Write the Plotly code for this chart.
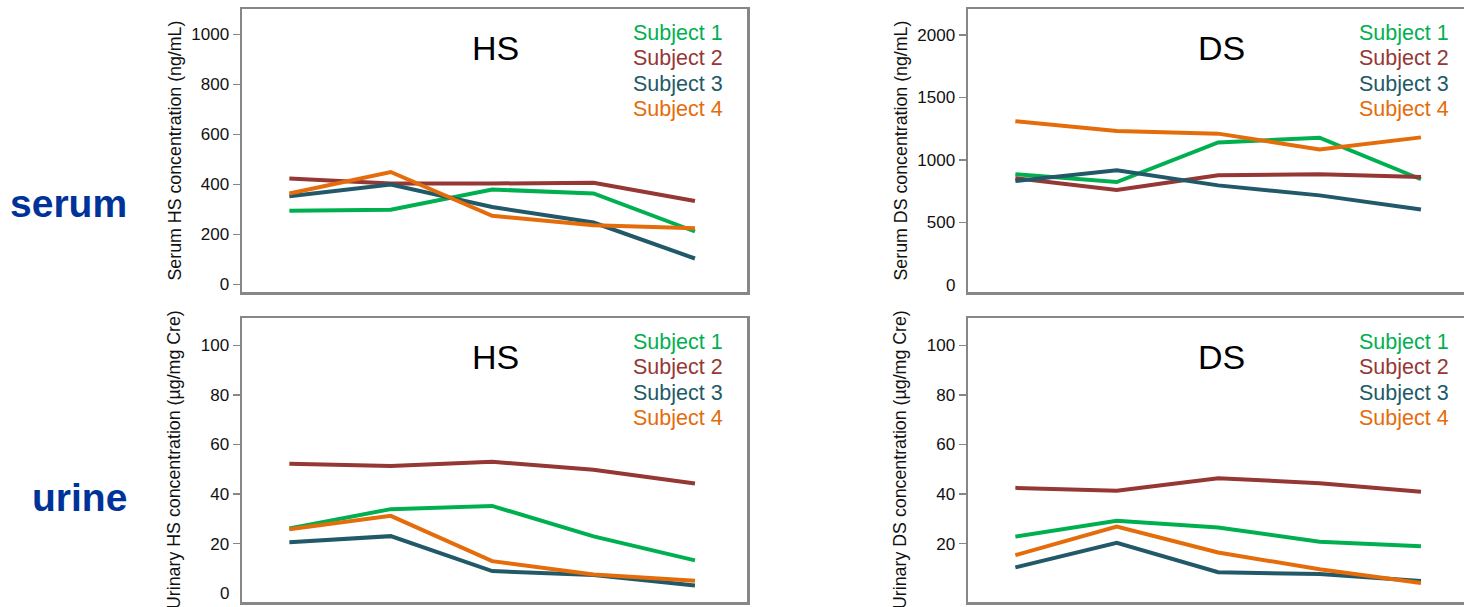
import plotly.graph_objects as go

W, H = 1464, 607

timepoints = [1, 2, 3, 4, 5]
subjects = ["Subject 1", "Subject 2", "Subject 3", "Subject 4"]
colors = ["#00b050", "#953735", "#215968", "#e46c0a"]

serum_hs_s1 = [295, 299, 380, 364, 212]
serum_hs_s2 = [424, 404, 404, 407, 334]
serum_hs_s3 = [353, 400, 310, 248, 104]
serum_hs_s4 = [364, 450, 275, 237, 225]

serum_ds_s1 = [886, 824, 1141, 1178, 846]
serum_ds_s2 = [854, 760, 878, 886, 864]
serum_ds_s3 = [832, 918, 797, 717, 604]
serum_ds_s4 = [1310, 1232, 1211, 1085, 1181]

urine_hs_s1 = [26.1, 33.9, 35.2, 22.9, 13.2]
urine_hs_s2 = [52.2, 51.3, 53.0, 49.8, 44.3]
urine_hs_s3 = [20.5, 23.0, 8.9, 7.3, 3.1]
urine_hs_s4 = [25.8, 31.2, 12.9, 7.5, 5.0]

urine_ds_s1 = [22.8, 29.2, 26.5, 20.7, 18.9]
urine_ds_s2 = [42.5, 41.3, 46.4, 44.4, 40.9]
urine_ds_s3 = [10.4, 20.3, 8.4, 7.7, 4.9]
urine_ds_s4 = [15.3, 26.9, 16.4, 9.6, 4.1]

serum_hs_ticks = [0, 200, 400, 600, 800, 1000]
serum_ds_ticks = [500, 1000, 1500, 2000]
urine_ticks = [20, 40, 60, 80, 100]

panel_titles = ["HS", "DS", "HS", "DS"]
axis_titles = [
    "Serum HS concentration (ng/mL)",
    "Serum DS concentration (ng/mL)",
    "Urinary HS concentration (µg/mg Cre)",
    "Urinary DS concentration (µg/mg Cre)",
]
row_labels = ["serum", "urine"]

FONT = "Arial, Liberation Sans, sans-serif"
GRAY = "#878787"


def px(x):
    return x / W


def py(y):
    return 1 - y / H


# pixel geometry of panels (screen pixels)
left_x = (242, 747)
right_x = (968, 1464)
top_y = (9, 292)
bot_y = (318, 602)
spacing = 101.4
x0 = 0.533

panels = [
    dict(data=[serum_hs_s1, serum_hs_s2, serum_hs_s3, serum_hs_s4], xr=left_x, yr=top_y,
         yrange=[-30, 1102], ticks=serum_hs_ticks, zero_label=False, mirror=True),
    dict(data=[serum_ds_s1, serum_ds_s2, serum_ds_s3, serum_ds_s4], xr=right_x, yr=top_y,
         yrange=[-56, 2208], ticks=serum_ds_ticks, zero_label=True, mirror=False),
    dict(data=[urine_hs_s1, urine_hs_s2, urine_hs_s3, urine_hs_s4], xr=left_x, yr=bot_y,
         yrange=[-3.6, 111.1], ticks=urine_ticks, zero_label=True, mirror=True),
    dict(data=[urine_ds_s1, urine_ds_s2, urine_ds_s3, urine_ds_s4], xr=right_x, yr=bot_y,
         yrange=[-3.6, 111.1], ticks=urine_ticks, zero_label=False, mirror=False),
]

fig = go.Figure()
annotations = []
layout = {}

for i, p in enumerate(panels):
    n = i + 1
    xa = "x" if n == 1 else f"x{n}"
    ya = "y" if n == 1 else f"y{n}"
    for s, vals in enumerate(p["data"]):
        fig.add_trace(go.Scatter(
            x=timepoints, y=vals, mode="lines", xaxis=xa, yaxis=ya,
            line=dict(color=colors[s], width=4), showlegend=False,
            name=subjects[s], hoverinfo="skip"))
    width_px = p["xr"][1] - p["xr"][0]
    layout[f"xaxis{'' if n == 1 else n}"] = dict(
        domain=[px(p["xr"][0]), min(1.0, px(p["xr"][1]))],
        range=[x0, x0 + width_px / spacing],
        showticklabels=False, ticks="", showgrid=False, zeroline=False,
        showline=True, linecolor=GRAY, linewidth=2.5, mirror=True,
        anchor=ya,
    )
    layout[f"yaxis{'' if n == 1 else n}"] = dict(
        domain=[py(p["yr"][1]), py(p["yr"][0])],
        range=p["yrange"], tickvals=p["ticks"],
        ticks="outside", ticklen=7, tickwidth=1.5, tickcolor=GRAY,
        tickfont=dict(family=FONT, size=17, color="#111111"),
        showgrid=False, zeroline=False,
        showline=True, linecolor=GRAY, linewidth=2.5, mirror=p["mirror"],
        anchor=xa,
    )
    if p["zero_label"]:
        annotations.append(dict(
            text="0", x=px(p["xr"][0] - 11), y=0, xref="paper", yref=ya,
            xanchor="right", yanchor="middle", showarrow=False,
            font=dict(family=FONT, size=17, color="#111111")))
    # panel title
    annotations.append(dict(
        text=panel_titles[i], x=px(p["xr"][0] + 253), y=py(p["yr"][0] + 39),
        xref="paper", yref="paper", xanchor="center", yanchor="middle",
        showarrow=False, font=dict(family=FONT, size=34, color="#000000")))
    # axis title
    annotations.append(dict(
        text=axis_titles[i], textangle=-90,
        x=px(p["xr"][0] - 68), y=py((p["yr"][0] + p["yr"][1]) / 2),
        xref="paper", yref="paper", xanchor="center", yanchor="middle",
        showarrow=False, font=dict(family=FONT, size=17.8, color="#111111")))
    # legend text
    for s, name in enumerate(subjects):
        annotations.append(dict(
            text=name, x=px(p["xr"][0] + 389), y=py(p["yr"][0] + 24 + 25.3 * s),
            xref="paper", yref="paper", xanchor="left", yanchor="middle",
            showarrow=False, font=dict(family=FONT, size=21.5, color=colors[s])))

# row labels
for r, lab in enumerate(row_labels):
    yc = 203 if r == 0 else 497
    annotations.append(dict(
        text=f"<b>{lab}</b>", x=px(129), y=py(yc), xref="paper", yref="paper",
        xanchor="right", yanchor="middle", showarrow=False,
        font=dict(family=FONT, size=39, color="#003399")))

fig.update_layout(
    width=W, height=H,
    margin=dict(l=0, r=0, t=0, b=0, autoexpand=False),
    paper_bgcolor="white", plot_bgcolor="white",
    annotations=annotations,
    **layout,
)

fig.write_html(
    "out.html",
    config={"displayModeBar": False, "staticPlot": True},
    post_script="document.body.style.margin='0';document.body.style.overflow='hidden';",
)
